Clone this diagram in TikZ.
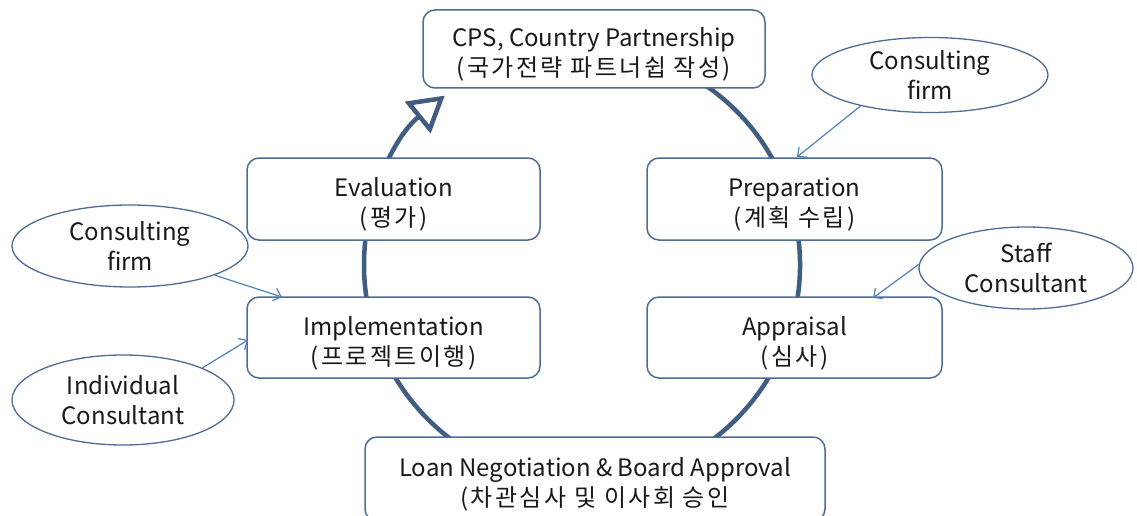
\documentclass[tikz,border=0pt]{standalone}
\usepackage{fontspec}
\setmainfont{Noto Sans CJK KR}
\newfontfamily\krsp[LetterSpace=10]{Noto Sans CJK KR}
\newcommand{\tstrut}{\rule{0pt}{30pt}}
\usetikzlibrary{arrows.meta,shapes.geometric,calc}
\definecolor{cycc}{RGB}{64,92,130}
\definecolor{boxc}{RGB}{79,108,150}
\definecolor{feedc}{RGB}{79,129,189}
\definecolor{txtc}{RGB}{25,25,25}
\begin{document}
\begin{tikzpicture}[x=1pt,y=1pt,
  stage/.style={draw=boxc, line width=1.5pt, fill=white, rounded corners=12pt,
    inner sep=0pt, align=center, font=\fontsize{24}{30}\selectfont, text=txtc},
  helper/.style={ellipse, draw=boxc, line width=1.3pt, fill=white, inner xsep=0pt,
    inner ysep=-10pt, align=center, font=\fontsize{24}{30}\selectfont, text=txtc},
  feed/.style={draw=feedc, line width=1.2pt, -{Straight Barb[length=7pt,width=13pt]}},
  cyclearc/.style={draw=cycc, line width=4.5pt,
    -{Triangle[open,length=35pt,width=40pt]}}
]
\useasboundingbox (0,-516) rectangle (1137,0);
\fill[white] (0,-516) rectangle (1137,0);

\coordinate (ctr) at (582,-265);
\draw[cyclearc] ($(ctr)+(60:218)$) arc[start angle=60, end angle=-231, radius=218];

\node[stage, minimum width=342pt, minimum height=78pt] (cps) at (594,-49)
  {\tstrut CPS, Country Partnership\\{\krsp(국가전략 파트너쉽 작성)}};
\node[stage, minimum width=293pt, minimum height=82pt] (eval) at (393.5,-199)
  {\tstrut Evaluation\\{\krsp(평가)}};
\node[stage, minimum width=295pt, minimum height=82pt] (prep) at (794.5,-199)
  {\tstrut Preparation\\{\krsp(계획 수립)}};
\node[stage, minimum width=293pt, minimum height=81pt] (impl) at (393.5,-337.5)
  {\tstrut Implementation\\{\krsp(프로젝트이행)}};
\node[stage, minimum width=295pt, minimum height=81pt] (appr) at (794.5,-337.5)
  {\tstrut Appraisal\\{\krsp(심사)}};
\node[stage, minimum width=460pt, minimum height=84pt] (loan) at (595,-479)
  {\tstrut Loan Negotiation \& Board Approval\\{\krsp(차관심사 및 이사회 승인}};

\node[helper, minimum width=236pt, minimum height=75pt] (cf1) at (930,-75)
  {Consulting\\firm};
\node[helper, minimum width=236pt, minimum height=82pt] (cf2) at (130,-246)
  {Consulting\\firm};
\node[helper, minimum width=222pt, minimum height=90pt] (ic) at (123,-400)
  {Individual\\Consultant};
\node[helper, minimum width=214pt, minimum height=82pt] (sc) at (1026,-268)
  {Staff\\Consultant};

\coordinate (t1) at (797,-157);
\coordinate (t2) at (282,-297);
\coordinate (t3) at (248,-340);
\coordinate (t4) at (873,-298);
\draw[feed] (cf1.204) -- (t1);
\draw[feed] (cf2.-19) -- (t2);
\draw[feed] (ic.22) -- (t3);
\draw[feed] (sc.178) -- (t4);
\end{tikzpicture}
\end{document}
